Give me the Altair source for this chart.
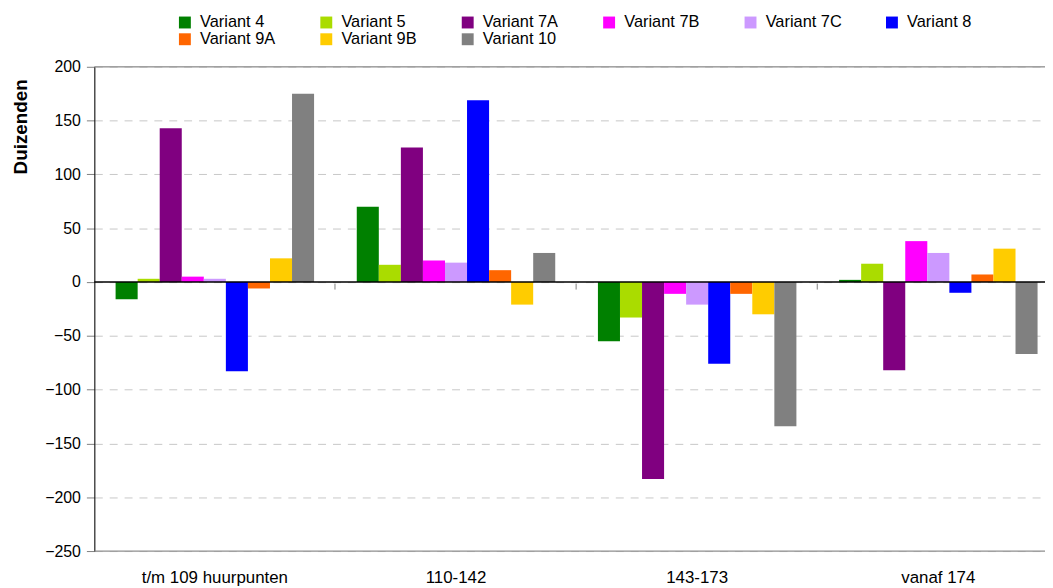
import altair as alt
import pandas as pd

groups = ["t/m 109 huurpunten", "110-142", "143-173", "vanaf 174"]
variants = ["Variant 4", "Variant 5", "Variant 7A", "Variant 7B", "Variant 7C",
            "Variant 8", "Variant 9A", "Variant 9B", "Variant 10"]
colors = ["#008000", "#aadc00", "#800080", "#ff00ff", "#cc99ff",
          "#0000ff", "#ff6600", "#ffcc00", "#808080"]

v4 = [-16, 70, -55, 2]
v5 = [3, 16, -33, 17]
v7a = [143, 125, -183, -82]
v7b = [5, 20, -11, 38]
v7c = [3, 18, -21, 27]
v8 = [-83, 169, -76, -10]
v9a = [-6, 11, -11, 7]
v9b = [22, -21, -30, 31]
v10 = [175, 27, -134, -67]

series = [v4, v5, v7a, v7b, v7c, v8, v9a, v9b, v10]
y_ticks = [200, 150, 100, 50, 0, -50, -100, -150, -200, -250]
zero_line = [0]
border_lines = [200, -250]

rows = []
for name, vals in zip(variants, series):
    for g, v in zip(groups, vals):
        rows.append({"groep": g, "variant": name, "waarde": v})
df = pd.DataFrame(rows)

FONT = "Liberation Sans"

x_enc = alt.X(
    "groep:N",
    sort=groups,
    scale=alt.Scale(paddingInner=0.177, paddingOuter=0.0595, align=0.741),
    axis=alt.Axis(
        title=None, orient="bottom", offset=-270, domain=False,
        bandPosition=1.1075,
        tickColor="#808080", tickSize=6,
        labelPadding=283, labelFontSize=17, labelAngle=0, labelFont=FONT,
        labelColor="#000000", grid=False,
    ),
)
y_scale = alt.Scale(domain=[-250, 200], nice=False, zero=False)

bars = alt.Chart(df).mark_bar().encode(
    x=x_enc,
    xOffset=alt.XOffset("variant:N", sort=variants),
    y=alt.Y(
        "waarde:Q", scale=y_scale,
        axis=alt.Axis(
            values=y_ticks, title="Duizenden", titleFont=FONT, titleFontSize=19,
            titleFontWeight="bold", titleAngle=270, titleX=-74, titleY=60,
            titleAlign="center", titleBaseline="middle", titleColor="#000000",
            labelFont=FONT, labelFontSize=16, labelColor="#000000",
            labelPadding=6, tickSize=8, tickColor="#808080",
            domainColor="#000000", domainWidth=1,
            grid=True, gridDash=[8, 7], gridColor="#c8c8c8", gridWidth=1,
        ),
    ),
    color=alt.Color(
        "variant:N", sort=variants,
        scale=alt.Scale(domain=variants, range=colors),
        legend=alt.Legend(
            title=None, orient="none", legendX=83, legendY=-53, columns=6,
            direction="horizontal",
            columnPadding=41.5, rowPadding=0, gridAlign="all", symbolType="square",
            symbolSize=144, symbolStrokeWidth=0, labelFont=FONT, labelFontSize=16.5,
            labelOffset=7, labelColor="#000000", padding=0,
        ),
    ),
)

borders = alt.Chart(pd.DataFrame({"v": border_lines})).mark_rule(
    color="#808080", strokeWidth=1
).encode(y=alt.Y("v:Q", scale=y_scale))

zero = alt.Chart(pd.DataFrame({"v": zero_line})).mark_rule(
    color="#000000", strokeWidth=1.3
).encode(y=alt.Y("v:Q", scale=y_scale))

chart = alt.layer(bars, borders, zero).properties(
    width=958, height=488,
    autosize=alt.AutoSizeParams(type="none"),
    padding={"left": 87, "top": 57, "right": 0, "bottom": 36},
).configure_view(stroke=None).configure(background="#ffffff")

chart.save("out.html", embed_options={"renderer": "svg", "actions": False})
